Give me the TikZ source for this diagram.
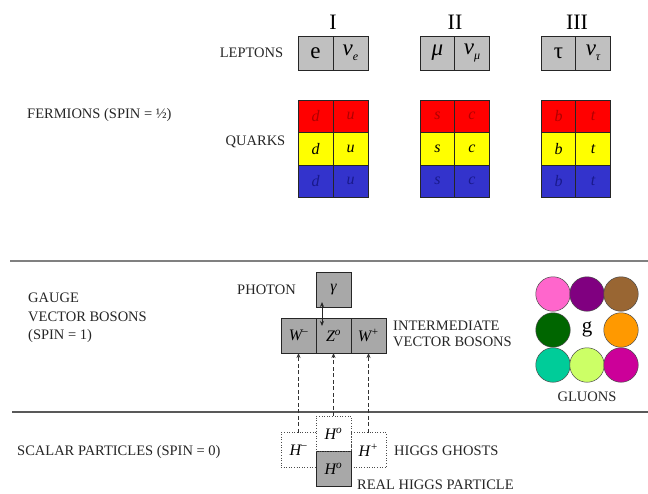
\documentclass[tikz,border=0pt]{standalone}
\usepackage{fontspec}
\setmainfont{Liberation Serif}
\usetikzlibrary{arrows.meta}

\definecolor{leptongray}{RGB}{192,192,192}
\definecolor{bosongray}{RGB}{168,168,168}
\definecolor{qred}{RGB}{255,0,0}
\definecolor{qyellow}{RGB}{255,255,0}
\definecolor{qblue}{RGB}{51,51,204}
\definecolor{qredtext}{RGB}{175,0,0}
\definecolor{qbluetext}{RGB}{25,25,140}
\definecolor{gpink}{RGB}{255,102,204}
\definecolor{gpurple}{RGB}{128,0,128}
\definecolor{gbrown}{RGB}{153,102,51}
\definecolor{gdkgreen}{RGB}{0,102,0}
\definecolor{gorange}{RGB}{255,153,0}
\definecolor{gteal}{RGB}{0,204,153}
\definecolor{glime}{RGB}{204,255,102}
\definecolor{gmagenta}{RGB}{204,0,153}

% small lowered index for the neutrino symbols
\newcommand{\nusub}[1]{\raisebox{-5pt}{\fontsize{12}{12}\selectfont\itshape #1}}

\tikzset{
  lab/.style={font=\fontsize{14.5}{17}\selectfont, inner sep=0pt, text=black!85},
  gen/.style={font=\fontsize{22}{24}\selectfont, inner sep=0pt},
  cell/.style={draw=black!85, line width=0.9pt, minimum width=35pt,
               minimum height=34pt, inner sep=0pt, outer sep=0pt},
  lcell/.style={cell, fill=leptongray, font=\fontsize{23}{24}\selectfont},
  qcell/.style={cell, minimum height=32.5pt, font=\fontsize{16}{18}\selectfont\itshape},
  qr/.style={qcell, fill=qred, text=qredtext},
  qy/.style={qcell, fill=qyellow, text=black},
  qb/.style={qcell, fill=qblue, text=qbluetext},
  bcell/.style={cell, minimum height=35pt, fill=bosongray, font=\fontsize{16}{18}\selectfont\itshape},
  ghost/.style={cell, minimum height=35pt, draw=black!70, line width=0.6pt, dotted,
                fill=white, font=\fontsize{16}{18}\selectfont\itshape},
  gluon/.style={circle, draw=black!70, line width=0.5pt, minimum size=34.5pt,
                inner sep=0pt},
  link/.style={-{Stealth[length=5pt,width=4pt]}, dash pattern=on 4pt off 2.5pt,
               line width=0.8pt, black!80},
  sep/.style={line width=2pt}
}

\begin{document}
\begin{tikzpicture}[x=1pt,y=-1pt]
\useasboundingbox[fill=white] (0,0) rectangle (648,493);

% generation headings
\node[gen] (g1) at (333,22) {I};
\node[gen] (g2) at (455,22) {II};
\node[gen] (g3) at (577,22) {III};

% leptons
\node[lab] (leptons) at (251.5,53) {LEPTONS};
\node[lcell] (e)    at (315.5,53) {e};
\node[lcell] (nue)  at (350.5,53) {\itshape ν\nusub{e}};
\node[lcell] (mu)   at (437.5,53) {\itshape μ};
\node[lcell] (numu) at (472,53)   {\itshape ν\nusub{μ}};
\node[lcell] (tau)  at (558.5,53) {τ};
\node[lcell] (nutau) at (593,53)  {\itshape ν\nusub{τ}};

% fermion labels
\node[lab, anchor=west] (fermions) at (27,115) {FERMIONS (SPIN = ½)};
\node[lab] (quarks) at (255.5,142) {QUARKS};

% quarks, one column pair per generation, one row per colour
\node[qr] (d1) at (315.5,116.25) {d};
\node[qr] (u1) at (350.5,116.25) {u};
\node[qy] (d2) at (315.5,148.75) {d};
\node[qy] (u2) at (350.5,148.75) {u};
\node[qb] (d3) at (315.5,181.25) {d};
\node[qb] (u3) at (350.5,181.25) {u};

\node[qr] (s1) at (437.5,116.25) {s};
\node[qr] (c1) at (472,116.25)   {c};
\node[qy] (s2) at (437.5,148.75) {s};
\node[qy] (c2) at (472,148.75)   {c};
\node[qb] (s3) at (437.5,181.25) {s};
\node[qb] (c3) at (472,181.25)   {c};

\node[qr] (b1) at (558.5,116.25) {b};
\node[qr] (t1) at (593,116.25)   {t};
\node[qy] (b2) at (558.5,148.75) {b};
\node[qy] (t2) at (593,148.75)   {t};
\node[qb] (b3) at (558.5,181.25) {b};
\node[qb] (t3) at (593,181.25)   {t};

% section separators
\coordinate (s1l) at (10,261);
\coordinate (s1r) at (648,261);
\draw[sep, black!50] (s1l) -- (s1r);
\coordinate (s2l) at (12,412);
\coordinate (s2r) at (648,412);
\draw[line width=1.5pt, black!65] (s2l) -- (s2r);

% gauge bosons
\node[lab, anchor=west, align=left] (gauge) at (28,318)
  {GAUGE\\[1.6pt]VECTOR BOSONS\\[1.6pt](SPIN = 1)};
\node[lab] (photon) at (266.5,290) {PHOTON};
\node[bcell] (gamma) at (333.5,289.5) {γ};
\node[bcell] (Wm) at (298.5,335.5) {W\textsuperscript{–}};
\node[bcell] (Z)  at (333.5,335.5) {Z\textsuperscript{o}};
\node[bcell] (Wp) at (368.5,335.5) {W\textsuperscript{+}};
\draw[{Stealth[length=5pt,width=4pt]}-{Stealth[length=5pt,width=4pt]}, line width=0.9pt, black!85]
  ([xshift=-11.5pt,yshift=5pt]gamma.south) -- ([xshift=-11.5pt,yshift=-8pt]Z.north);
\node[lab, anchor=west, align=left] (ivb) at (393,334)
  {INTERMEDIATE\\[-1.5pt]VECTOR BOSONS};

% gluons
\node[gluon, fill=gpink]    (gl1) at (553,294) {};
\node[gluon, fill=gpurple]  (gl2) at (587,294) {};
\node[gluon, fill=gbrown]   (gl3) at (621,294) {};
\node[gluon, fill=gdkgreen] (gl4) at (553,330) {};
\node[font=\fontsize{21}{22}\selectfont, inner sep=0pt] (g) at (587,329) {g};
\node[gluon, fill=gorange]  (gl5) at (621,330) {};
\node[gluon, fill=gteal]    (gl6) at (553,365) {};
\node[gluon, fill=glime]    (gl7) at (587,365) {};
\node[gluon, fill=gmagenta] (gl8) at (621,365) {};
\node[lab] (gluons) at (587,397) {GLUONS};

% scalar particles
\node[lab, anchor=west] (scalar) at (17,452) {SCALAR PARTICLES (SPIN = 0)};
\node[ghost] (Hm)  at (298.5,450)   {H\textsuperscript{–}};
\node[ghost] (Hp)  at (368.5,450)   {H\textsuperscript{+}};
\node[bcell, line width=0.9pt] (H0r) at (333.5,468.5) {H\textsuperscript{o}};
\node[ghost] (H0g) at (333.5,433.5) {H\textsuperscript{o}};
\node[lab, anchor=west] (ghosts) at (394,451) {HIGGS GHOSTS};
\node[lab, anchor=west] (real) at (357,485) {REAL HIGGS PARTICLE};

% ghosts absorbed as longitudinal modes of W and Z
\draw[link] (Hm.north)  -- (Wm.south);
\draw[link] (H0g.north) -- (Z.south);
\draw[link] (Hp.north)  -- (Wp.south);
\end{tikzpicture}
\end{document}
